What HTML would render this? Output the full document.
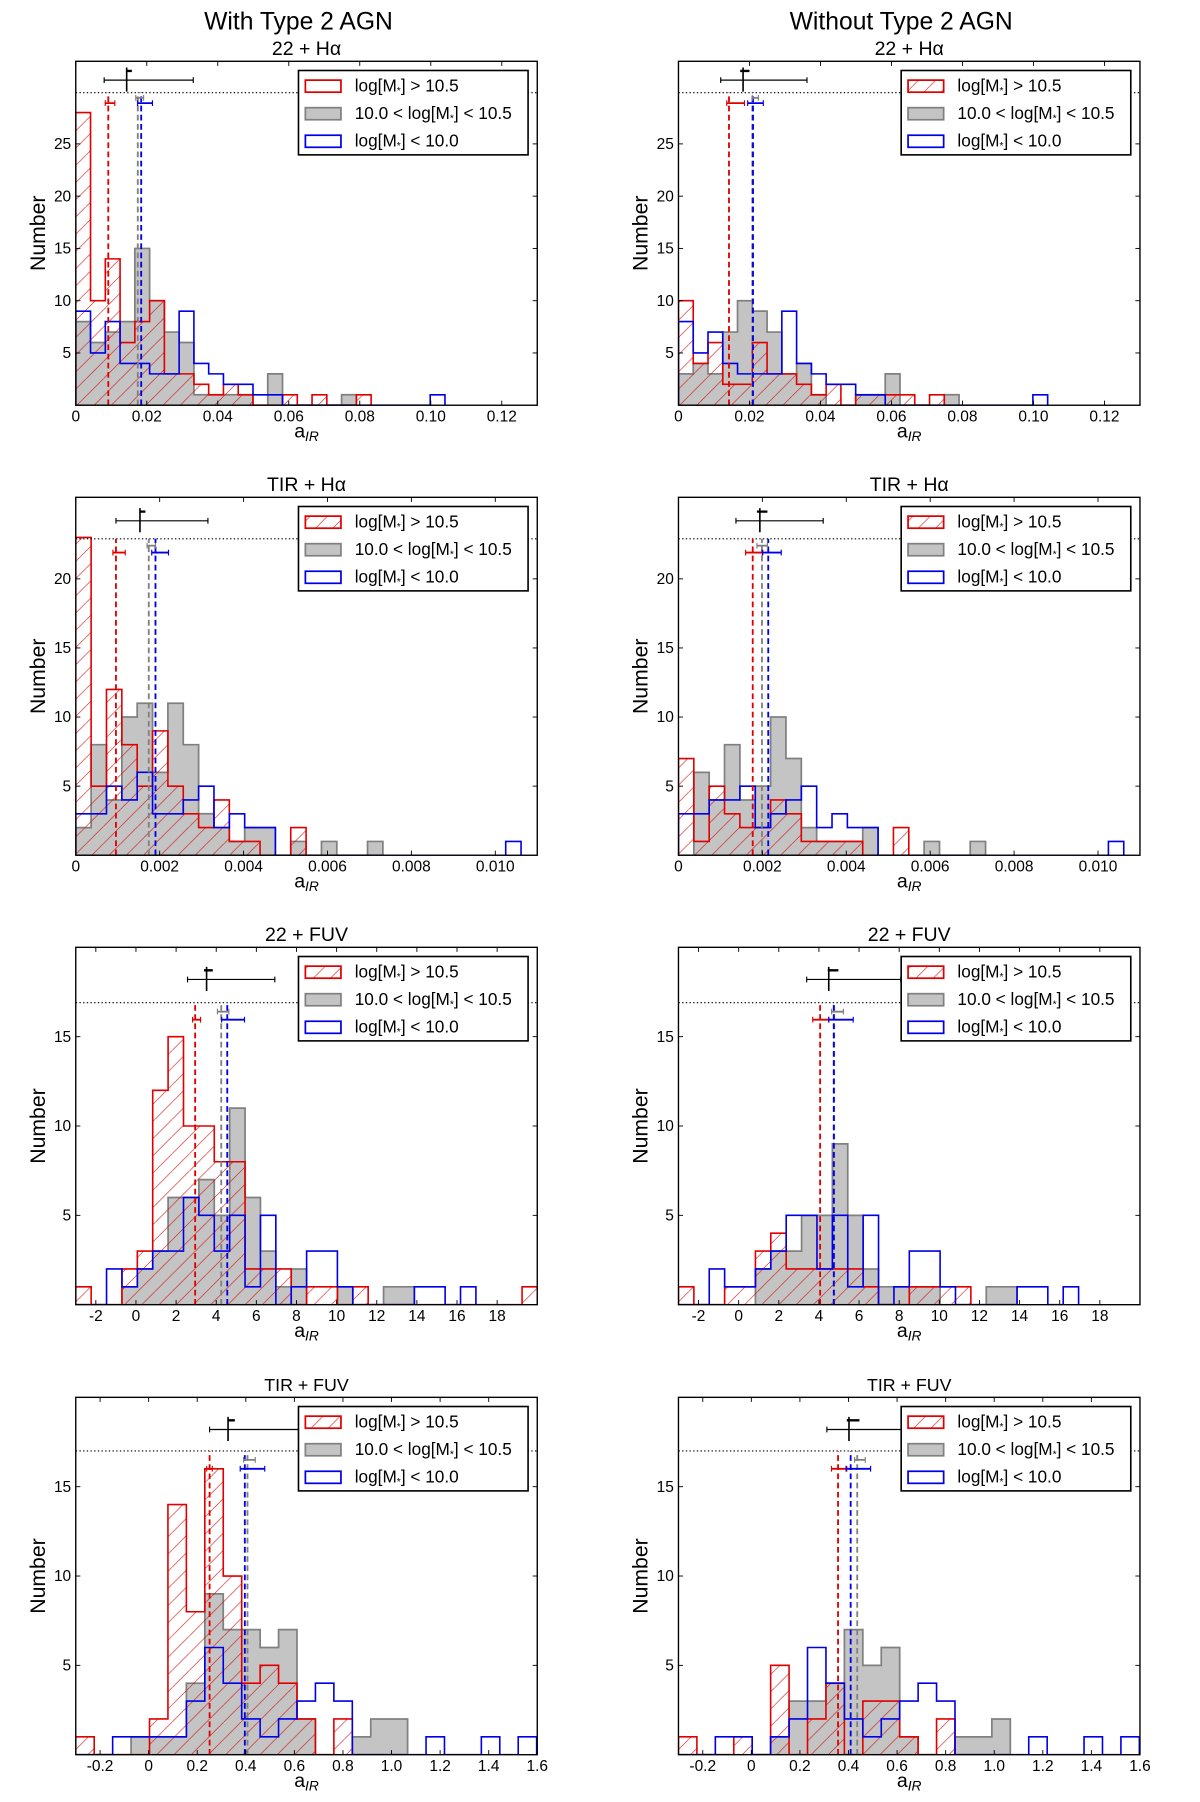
<!DOCTYPE html>
<html><head><meta charset="utf-8"><title>a_IR histograms</title>
<style>
html,body{margin:0;padding:0;background:#fff;}
svg{display:block;font-family:"Liberation Sans",sans-serif;}
</style></head>
<body>
<svg id="fig" width="1200" height="1802" viewBox="0 0 1045.3 1569.7" preserveAspectRatio="none" xmlns="http://www.w3.org/2000/svg">
<defs>
<pattern id="hatch" patternUnits="userSpaceOnUse" width="15" height="15">
<path d="M-1,16 L16,-1" stroke="#d00000" stroke-width="0.5"/>
</pattern>
</defs>
<text x="260" y="25.5" font-size="21.5" text-anchor="middle">With Type 2 AGN</text>
<text x="785" y="25.5" font-size="21.5" text-anchor="middle">Without Type 2 AGN</text>
<g id="panels"></g>
</svg>
<script>
// ---- data ----
const panelTitles = ["22 + H\u03B1","22 + H\u03B1","TIR + H\u03B1","TIR + H\u03B1","22 + FUV","22 + FUV","TIR + FUV","TIR + FUV"];
const xMin = [0,0,0,0,-3,-3,-0.3,-0.3];
const xMax = [0.13,0.13,0.011,0.011,20,20,1.6,1.6];
const yMax = [32.9,32.9,25.9,25.9,20,20,20,20];
const binStart = [0,0,0,0,-3,-3,-0.3,-0.3];
const binWidth = [0.00416,0.00416,0.000366,0.000366,0.767,0.767,0.0759,0.0759];

const p1Red  = [28,10,14,6,8,10,3,3,2,1,2,1,0,0,1,0,1,0,0,1];
const p1Gray = [8,6,7,8,15,10,7,6,1,1,1,1,0,3,0,0,0,0,1];
const p1Blue = [9,5,8,4,4,3,3,9,4,3,2,2,1,1,0,0,0,0,0,0,0,0,0,0,1];
const p2Red  = [10,4,6,2,2,6,3,3,2,1,2,0,1,1,1,1,0,1];
const p2Gray = [3,4,3,7,10,9,7,3,4,1,0,0,1,1,3,0,0,0,1];
const p2Blue = [8,5,7,4,3,3,3,9,4,3,2,2,1,1,0,0,0,0,0,0,0,0,0,0,1];
const p3Red  = [23,5,12,8,5,9,5,3,2,4,1,1,0,0,2];
const p3Gray = [2,8,4,10,11,6,11,8,3,2,1,2,2,0,1,0,1,0,0,1];
const p3Blue = [3,3,5,4,6,3,3,4,5,2,3,2,2,0,0,0,0,0,0,0,0,0,0,0,0,0,0,0,1];
const p4Red  = [7,1,5,3,2,2,4,3,1,1,1,1,0,0,2];
const p4Gray = [0,6,4,8,4,5,10,7,2,1,1,1,2,0,0,0,1,0,0,1];
const p4Blue = [3,3,4,4,5,2,3,4,5,2,3,2,2,0,0,0,0,0,0,0,0,0,0,0,0,0,0,0,1];
const p5Red  = [1,0,0,2,3,12,15,10,10,8,8,2,2,2,0,1,1,0,1,0,0,0,0,0,0,0,0,0,0,1];
const p5Gray = [0,0,0,1,2,3,6,6,7,5,11,6,3,1,2,0,0,1,0,0,1,1];
const p5Blue = [0,0,2,1,2,3,3,6,5,3,5,1,5,0,1,3,3,1,0,0,0,0,1,1,0,1];
const p6Red  = [1,0,0,1,1,3,4,2,2,2,2,2,1,0,0,1,1,1,1];
const p6Gray = [0,0,0,0,0,2,3,3,5,5,9,5,2,1,1,1,1,0,0,0,1,1];
const p6Blue = [0,0,2,1,1,2,3,5,5,2,5,1,5,0,1,3,3,1,0,0,0,0,1,1,0,1];
const p7Red  = [1,0,0,0,2,14,8,16,10,4,5,4,2,0,2];
const p7Gray = [0,0,0,1,1,1,4,9,7,7,6,7,2,0,0,1,2,2];
const p7Blue = [0,0,1,1,1,1,3,6,4,2,1,2,3,4,3,0,0,0,0,1,0,0,1,0,1];
const p8Red  = [1,0,0,1,0,5,0,2,4,0,3,3,1,0,2];
const p8Gray = [0,0,0,0,0,1,3,3,4,7,5,6,1,0,0,1,1,2];
const p8Blue = [0,0,1,1,0,1,2,6,4,2,1,2,3,4,3,0,0,0,0,1,0,0,1,0,1];
const redSets  = [p1Red,p2Red,p3Red,p4Red,p5Red,p6Red,p7Red,p8Red];
const graySets = [p1Gray,p2Gray,p3Gray,p4Gray,p5Gray,p6Gray,p7Gray,p8Gray];
const blueSets = [p1Blue,p2Blue,p3Blue,p4Blue,p5Blue,p6Blue,p7Blue,p8Blue];

const medRed  = [0.00916,0.01423,0.000958,0.00177,2.95,4.06,0.251,0.357];
const medGray = [0.01747,0.0208,0.00174,0.00199,4.25,4.76,0.407,0.436];
const medBlue = [0.01843,0.0210,0.0019,0.00214,4.55,4.74,0.396,0.409];
const refLevel = [29.9,29.9,22.9,22.9,16.9,16.9,17.0,17.0];
const errRed  = [[0.0083,0.0110],[0.0136,0.0186],[0.000885,0.00118],[0.0016,0.00201],[2.82,3.22],[3.69,4.49],[0.239,0.262],[0.33,0.393]];
const errGray = [[0.0169,0.0191],[0.0208,0.0225],[0.0017,0.0019],[0.00187,0.00212],[4.06,4.63],[4.63,5.22],[0.391,0.439],[0.425,0.469]];
const errBlue = [[0.0174,0.0216],[0.0195,0.0239],[0.00181,0.00221],[0.002,0.00245],[4.27,5.41],[4.49,5.71],[0.377,0.478],[0.39,0.491]];
const errYRed  = [28.9,28.9,21.9,21.9,15.95,15.95,16.0,16.0];
const errYGray = [29.4,29.4,22.4,22.4,16.4,16.4,16.5,16.5];
const allCenter = [0.01434,0.0182,0.00153,0.00194,3.52,4.49,0.327,0.402];
const allRange  = [[0.0080,0.0331],[0.0119,0.0362],[0.000958,0.00315],[0.00137,0.00345],[2.57,6.92],[3.39,8.08],[0.251,0.617],[0.311,0.621]];
const allInner  = [[0.0143,0.0158],[0.0174,0.0200],[0.00153,0.00166],[0.00187,0.00212],[3.39,3.83],[4.44,4.97],[0.327,0.355],[0.393,0.445]];
const allY = [31.1,31.1,24.2,24.2,18.2,18.2,18.2,18.2];

const xTickVals = [
 [0,0.02,0.04,0.06,0.08,0.10,0.12],[0,0.02,0.04,0.06,0.08,0.10,0.12],
 [0,0.002,0.004,0.006,0.008,0.010],[0,0.002,0.004,0.006,0.008,0.010],
 [-2,0,2,4,6,8,10,12,14,16,18],[-2,0,2,4,6,8,10,12,14,16,18],
 [-0.2,0,0.2,0.4,0.6,0.8,1.0,1.2,1.4,1.6],[-0.2,0,0.2,0.4,0.6,0.8,1.0,1.2,1.4,1.6]];
const xTickLabels = [
 ["0","0.02","0.04","0.06","0.08","0.10","0.12"],["0","0.02","0.04","0.06","0.08","0.10","0.12"],
 ["0","0.002","0.004","0.006","0.008","0.010"],["0","0.002","0.004","0.006","0.008","0.010"],
 ["-2","0","2","4","6","8","10","12","14","16","18"],["-2","0","2","4","6","8","10","12","14","16","18"],
 ["-0.2","0","0.2","0.4","0.6","0.8","1.0","1.2","1.4","1.6"],["-0.2","0","0.2","0.4","0.6","0.8","1.0","1.2","1.4","1.6"]];
const yTickVals = [[5,10,15,20,25],[5,10,15,20,25],[5,10,15,20],[5,10,15,20],[5,10,15],[5,10,15],[5,10,15],[5,10,15]];
const legendPre = ["log[M","10.0 < log[M","log[M"];
const legendPost = ["] > 10.5","] < 10.5","] < 10.0"];

const colX = [[66,468],[591,993]];
const rowY = [[53.4,353],[433.2,745],[825.2,1136.5],[1217.2,1528.5]];
const NS = "http://www.w3.org/2000/svg";
const root = document.getElementById('panels');
function mk(tag, attrs, parent){
  const e = document.createElementNS(NS, tag);
  for (const k in attrs) e.setAttribute(k, attrs[k]);
  (parent||root).appendChild(e);
  return e;
}
const RED="#e00000", BLUE="#0000e6", GRAYF="#c4c4c4", GRAYS="#808080";

for (let i=0;i<8;i++){
  const [L,R] = colX[i%2]; const [T,B] = rowY[Math.floor(i/2)];
  const sx = v => L + (v - xMin[i])/(xMax[i]-xMin[i])*(R-L);
  const sy = v => B - v/yMax[i]*(B-T);
  const g = mk('g',{});
  
  
  const clip = mk('clipPath',{id:'clip'+i}, g);
  mk('rect',{x:L,y:T,width:R-L,height:B-T}, clip);
  const plot = mk('g',{'clip-path':'url(#clip'+i+')'}, g);

  function stepPath(counts){
    let d = 'M'+sx(binStart[i]).toFixed(2)+','+sy(0).toFixed(2);
    counts.forEach((c,k)=>{
      const x0 = sx(binStart[i]+k*binWidth[i]), x1 = sx(binStart[i]+(k+1)*binWidth[i]);
      d += ' L'+x0.toFixed(2)+','+sy(c).toFixed(2)+' L'+x1.toFixed(2)+','+sy(c).toFixed(2);
    });
    d += ' L'+sx(binStart[i]+counts.length*binWidth[i]).toFixed(2)+','+sy(0).toFixed(2);
    return d;
  }
  const gp = mk('path',{d:stepPath(graySets[i])+' Z', fill:GRAYF, stroke:GRAYS, 'stroke-width':1.5}, plot);
  
  
  const rh = mk('path',{d:stepPath(redSets[i])+' Z', fill:'url(#hatch)', stroke:'none'}, plot);
  
  
  const rp = mk('path',{d:stepPath(redSets[i]), fill:'none', stroke:RED, 'stroke-width':1.4}, plot);
  
  
  const bp = mk('path',{d:stepPath(blueSets[i]), fill:'none', stroke:BLUE, 'stroke-width':1.4}, plot);
  
  

  const dl = mk('line',{x1:L,x2:R,y1:sy(refLevel[i]),y2:sy(refLevel[i]),stroke:'#000','stroke-width':1,'stroke-dasharray':'1.2,2'}, plot);
  
  
  [[medRed[i],RED],[medGray[i],GRAYS],[medBlue[i],BLUE]].forEach(([m,c],k)=>{
    const ml = mk('line',{x1:sx(m),x2:sx(m),y1:sy(0),y2:sy(refLevel[i]),stroke:c,'stroke-width':1.6,'stroke-dasharray':'5,3'}, plot);
    
    
  });
  [[errRed[i],errYRed[i],RED],[errGray[i],errYGray[i],GRAYS],[errBlue[i],errYRed[i],BLUE]].forEach(([e,y,c],k)=>{
    const eg = mk('g',{stroke:c,'stroke-width':1.6}, plot);
    
    
    mk('line',{x1:sx(e[0]),x2:sx(e[1]),y1:sy(y),y2:sy(y)}, eg);
    mk('line',{x1:sx(e[0]),x2:sx(e[0]),y1:sy(y)-2.5,y2:sy(y)+2.5,'stroke-width':1}, eg);
    mk('line',{x1:sx(e[1]),x2:sx(e[1]),y1:sy(y)-2.5,y2:sy(y)+2.5,'stroke-width':1}, eg);
  });
  const ag = mk('g',{stroke:'#000'}, plot);
  
  
  const ay = sy(allY[i]);
  mk('line',{x1:sx(allRange[i][0]),x2:sx(allRange[i][1]),y1:ay,y2:ay,'stroke-width':1}, ag);
  mk('line',{x1:sx(allRange[i][0]),x2:sx(allRange[i][0]),y1:ay-2.5,y2:ay+2.5,'stroke-width':1}, ag);
  mk('line',{x1:sx(allRange[i][1]),x2:sx(allRange[i][1]),y1:ay-2.5,y2:ay+2.5,'stroke-width':1}, ag);
  mk('line',{x1:sx(allInner[i][0]),x2:sx(allInner[i][1]),y1:ay-8,y2:ay-8,'stroke-width':2}, ag);
  mk('line',{x1:sx(allCenter[i]),x2:sx(allCenter[i]),y1:ay-11,y2:ay+10,'stroke-width':1.4}, ag);

  const fr = mk('rect',{x:L,y:T,width:R-L,height:B-T,fill:'none',stroke:'#000','stroke-width':1.2}, g);
  
  
  xTickVals[i].forEach((v,k)=>{
    const x = sx(v);
    mk('line',{x1:x,x2:x,y1:B,y2:B-4,stroke:'#000','stroke-width':0.8}, g);
    mk('line',{x1:x,x2:x,y1:T,y2:T+4,stroke:'#000','stroke-width':0.8}, g);
    const t = mk('text',{x:x,y:B+14,'font-size':13.5,'text-anchor':'middle'}, g);
    
    
    t.textContent = xTickLabels[i][k];
  });
  yTickVals[i].forEach(v=>{
    const y = sy(v);
    mk('line',{x1:L,x2:L+4,y1:y,y2:y,stroke:'#000','stroke-width':0.8}, g);
    mk('line',{x1:R,x2:R-4,y1:y,y2:y,stroke:'#000','stroke-width':0.8}, g);
    const t = mk('text',{x:L-4,y:y+4.5,'font-size':13.5,'text-anchor':'end'}, g);
    
    
    t.textContent = String(v);
  });
  const ttl = mk('text',{x:(L+R)/2,y:T-5.5,'font-size':i>=6?15.5:17,'text-anchor':'middle'}, g);
  
  
  ttl.textContent = panelTitles[i];
  const yl = mk('text',{x:0,y:0,'font-size':18.5,'text-anchor':'middle',transform:'translate('+(L-27)+','+((T+B)/2)+') rotate(-90)'}, g);
  
  
  yl.textContent = 'Number';
  const xl = mk('text',{x:(L+R)/2,y:B+28,'font-size':17,'text-anchor':'middle'}, g);
  
  
  xl.textContent = 'a';
  const sub = mk('tspan',{'font-size':12,'font-style':'italic',dy:3}, xl);
  sub.textContent = 'IR';

  const lg = mk('g',{}, g);
  
  
  const LL = R-208, LT = T+8;
  mk('rect',{x:LL,y:LT,width:200,height:73.5,fill:'#fff',stroke:'#000','stroke-width':1.4}, lg);
  const styles = [{fill:i===0?'#fff':'url(#hatch)',stroke:RED},{fill:GRAYF,stroke:GRAYS},{fill:'#fff',stroke:BLUE}];
  legendPre.forEach((lab,k)=>{
    const cy = LT + 13.4 + k*24;
    const en = mk('g',{}, lg);
    
    
    mk('rect',{x:LL+6,y:cy-5,width:31,height:10.5,fill:styles[k].fill,stroke:styles[k].stroke,'stroke-width':1.5}, en);
    const t = mk('text',{x:LL+49,y:cy+5,'font-size':15}, en);
    t.appendChild(document.createTextNode(lab));
    const s = mk('tspan',{'font-size':9,dy:2}, t);
    s.textContent = '*';
    const p = mk('tspan',{dy:-2}, t);
    p.textContent = legendPost[k];
  });
}
</script>
</body></html>
